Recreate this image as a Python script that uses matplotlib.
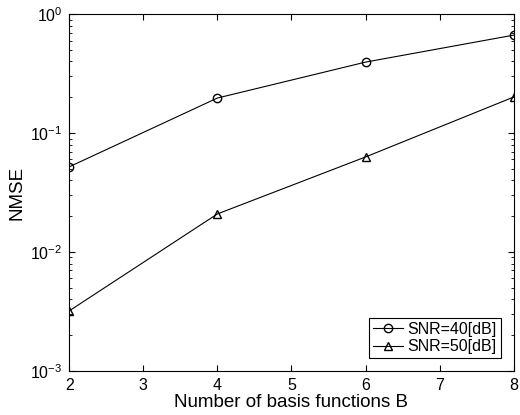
import matplotlib
matplotlib.use("Agg")
import matplotlib.pyplot as plt
from matplotlib.ticker import LogLocator, NullFormatter

plt.rcParams["font.family"] = ["Liberation Sans", "DejaVu Sans"]
plt.rcParams["font.size"] = 11.5
plt.rcParams["mathtext.fontset"] = "custom"
plt.rcParams["mathtext.rm"] = "Liberation Sans"
plt.rcParams["mathtext.it"] = "Liberation Sans"
plt.rcParams["mathtext.default"] = "regular"

# data
num_basis = [2, 4, 6, 8]
nmse_snr40 = [0.052, 0.197, 0.395, 0.666]
nmse_snr50 = [0.0032, 0.0209, 0.063, 0.201]
labels = ["SNR=40[dB]", "SNR=50[dB]"]

fig = plt.figure(figsize=(5.2, 4.15), dpi=100)
ax = fig.add_axes([0.133, 0.106, 0.855, 0.86])

ax.semilogy(num_basis, nmse_snr40, "k-", marker="o", markersize=6,
            markerfacecolor="none", linewidth=0.8, label=labels[0])
ax.semilogy(num_basis, nmse_snr50, "k-", marker="^", markersize=6,
            markerfacecolor="none", linewidth=0.8, label=labels[1])

ax.set_xlim(2, 8)
ax.set_ylim(1e-3, 1e0)
ax.set_xticks(range(2, 9))
ax.yaxis.set_major_locator(LogLocator(base=10, numticks=10))
ax.yaxis.set_minor_locator(LogLocator(base=10, subs=range(2, 10), numticks=10))
ax.yaxis.set_minor_formatter(NullFormatter())

ax.tick_params(which="both", direction="in", top=True, right=True)
ax.tick_params(which="major", length=4, pad=5)
ax.tick_params(which="minor", length=2)
for s in ax.spines.values():
    s.set_linewidth(0.8)

ax.set_xlabel("Number of basis functions B", fontsize=13.5, labelpad=1)
ax.set_ylabel("NMSE", fontsize=13.5, labelpad=3)

leg = ax.legend(loc="lower right", fancybox=False, edgecolor="black",
                framealpha=1, handlelength=1.9, borderpad=0.25,
                labelspacing=0.15, handletextpad=0.3, borderaxespad=0.8)
leg.get_frame().set_linewidth(0.8)

fig.savefig("out.png", dpi=100)
